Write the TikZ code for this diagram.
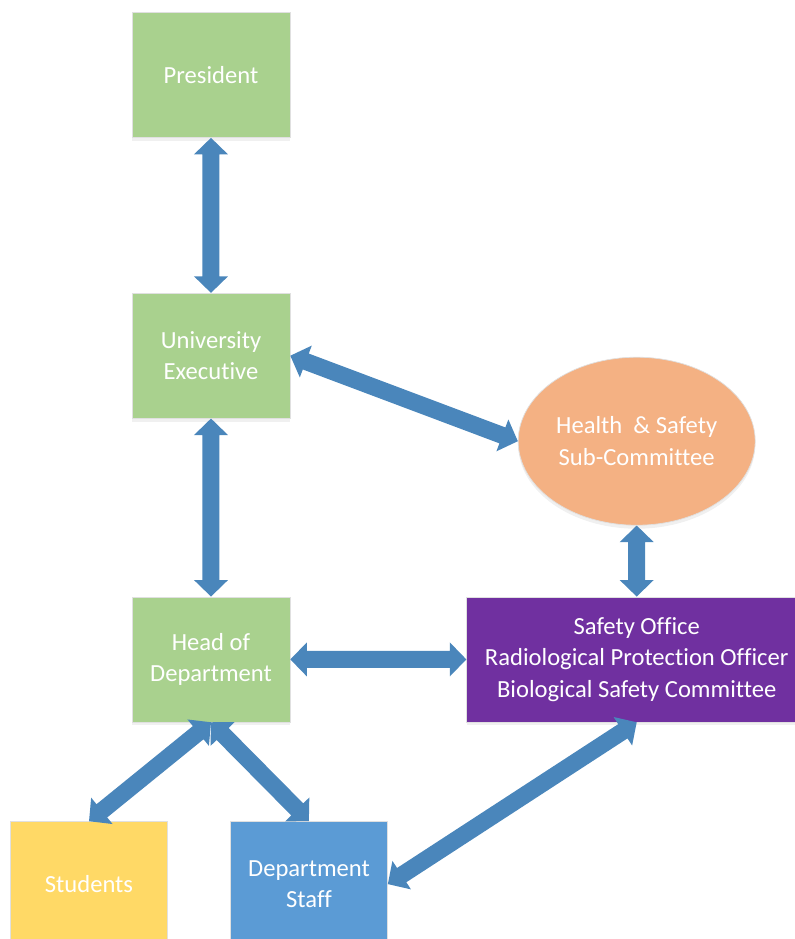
\documentclass[tikz,border=0pt]{standalone}
\usepackage{fontspec}
\setmainfont{Carlito}[Ligatures={NoCommon,NoContextual},Contextuals=NoAlternate]
\usepackage{tikz}
\usetikzlibrary{calc,shapes,positioning,shadows}
\definecolor{boxgreen}{HTML}{A9D18E}
\definecolor{boxorange}{HTML}{F4B183}
\definecolor{boxpurple}{HTML}{7030A0}
\definecolor{boxyellow}{HTML}{FFD966}
\definecolor{boxblue}{HTML}{5B9BD5}
\definecolor{arrowblue}{HTML}{4A86BB}
\tikzset{unit box/.style={rectangle,draw=black!12,minimum width=3.16cm,minimum height=2.5cm,
            text=white,align=center,font=\fontsize{14}{18}\selectfont,inner sep=0pt,
            drop shadow={opacity=0.12,shadow xshift=0pt,shadow yshift=-2pt}},
         green box/.style={unit box,fill=boxgreen},
         % block double arrow between two points
         link/.style={every edge/.style={fill=arrowblue,draw=none},to path={
            let \p1=(\tikztostart), \p2=(\tikztotarget),
                \n1={atan2(\y2-\y1,\x2-\x1)},
                \n3={veclen(\x2-\x1,\y2-\y1)}, \n2={\n3-0.33cm} in
            ([shift={(\p1)},rotate=\n1]0,0)
            -- ([shift={(\p1)},rotate=\n1]0.33cm,0.34cm) -- ([shift={(\p1)},rotate=\n1]0.33cm,0.17cm)
            -- ([shift={(\p1)},rotate=\n1]\n2,0.17cm) -- ([shift={(\p1)},rotate=\n1]\n2,0.34cm)
            -- ([shift={(\p1)},rotate=\n1]\n3,0)
            -- ([shift={(\p1)},rotate=\n1]\n2,-0.34cm) -- ([shift={(\p1)},rotate=\n1]\n2,-0.17cm)
            -- ([shift={(\p1)},rotate=\n1]0.33cm,-0.17cm) -- ([shift={(\p1)},rotate=\n1]0.33cm,-0.34cm)
            -- cycle}},
            }

\begin{document}
\begin{tikzpicture}
    \useasboundingbox (-4.22,1.5) rectangle (11.68,-17.28);

    \node[green box] (president) {President};
    \node[green box] (exec) [below = 3.1cm of president] {University\\Executive};
    \node[green box] (hod) [below = 3.56cm of exec] {Head of\\Department};
    \node[unit box,fill=boxpurple,minimum width=6.8cm] (office) [right = 3.52cm of hod]
        {Safety Office\\Radiological Protection Officer\\Biological Safety Committee};
    \node[unit box,ellipse,fill=boxorange,minimum width=4.74cm,minimum height=3.36cm] (hs)
        [above = 1.42cm of office] {Health\ \ \& Safety\\Sub-Committee};
    \node[unit box,fill=boxyellow,minimum width=3.14cm] (students) [below = 1.98cm of hod, xshift=-2.44cm] {Students};
    \node[unit box,fill=boxblue,minimum width=3.14cm] (staff) [below = 1.98cm of hod, xshift=1.96cm] {Department\\Staff};

    \path[link]
    (president.south) edge (exec.north)
    (exec.south) edge (hod.north)
    (exec.east) edge (hs.west)
    (hs.south) edge (office.north)
    (hod.east) edge (office.west);

    \path[link]
    (hod.south) edge (students.north)
    (hod.south) edge (staff.north)
    (office.south) edge (staff.east);

\end{tikzpicture}
\end{document}
